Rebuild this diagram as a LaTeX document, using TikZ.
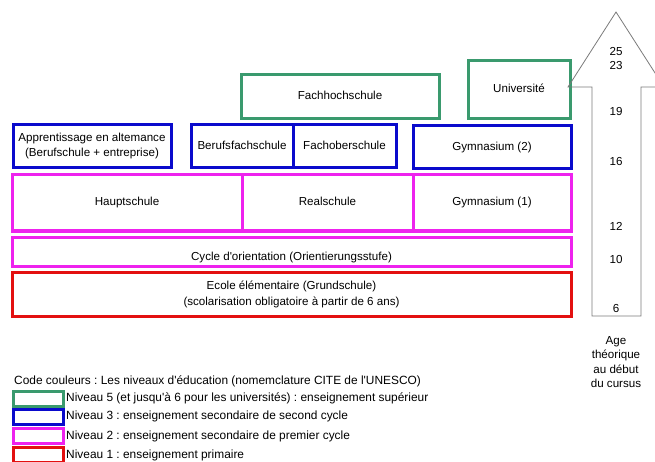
\documentclass[tikz,border=0pt]{standalone}
\usepackage{fontspec}
\setmainfont{Liberation Sans}
\usepackage{tikz}
\usetikzlibrary{positioning}
\definecolor{cite-green}{HTML}{3A9A6E}
\definecolor{cite-blue}{HTML}{0A0ACC}
\definecolor{cite-magenta}{HTML}{EE22EE}
\definecolor{cite-red}{HTML}{E31010}
\definecolor{age-gray}{HTML}{7A7A7A}
\newcommand{\apo}{\textquotesingle}

\begin{document}
\begin{tikzpicture}[x=1pt, y=-1pt,
    font=\fontsize{11.6}{15}\selectfont\frenchspacing,
    citebox/.style={draw=#1, line width=3pt, align=center, inner sep=0pt, outer sep=0pt},
    oneline/.style={text height=8.4pt, text depth=2.4pt},
    keybox/.style={draw=#1, line width=3pt, minimum width=50pt, minimum height=15pt, inner sep=0pt, outer sep=0pt}]
    \clip (0,0) rectangle (655,462);

    % Niveau 5
    \node[citebox=cite-green, oneline, minimum width=198pt, minimum height=44pt] (fhs) at (340,97) {Fachhochschule};
    \node[citebox=cite-green, oneline, minimum width=102pt, minimum height=58pt] (uni) at (519,90) {Université};

    % Niveau 3
    \node[citebox=cite-blue, minimum width=158pt, minimum height=43pt] (appr) at (92,146.5) {Apprentissage en altemance\\(Berufschule + entreprise)};
    \node[citebox=cite-blue, oneline, minimum width=102pt, minimum height=43pt] (bfs) at (242,146.5) {Berufsfachschule};
    \node[citebox=cite-blue, oneline, minimum width=103pt, minimum height=43pt, right=0pt of bfs] (fos) {Fachoberschule};
    \node[citebox=cite-blue, oneline, minimum width=158pt, minimum height=43pt] (gym2) at (492,147.5) {Gymnasium (2)};

    % Niveau 2
    \node[citebox=cite-magenta, oneline, minimum width=230pt, minimum height=56pt] (haupt) at (127,203) {Hauptschule};
    \node[citebox=cite-magenta, oneline, minimum width=171pt, minimum height=56pt, right=0pt of haupt] (real) {Realschule};
    \node[citebox=cite-magenta, oneline, minimum width=158pt, minimum height=56pt, right=0pt of real] (gym1) {Gymnasium (1)};
    \node[citebox=cite-magenta, minimum width=559pt, minimum height=29pt] (orient) at (291.5,251.5) {};
    \node[oneline] (orienttxt) at (291.5,257) {Cycle d\apo orientation (Orientierungsstufe)};

    % Niveau 1
    \node[citebox=cite-red, minimum width=559pt, minimum height=44pt, font=\fontsize{11.6}{16}\selectfont] (ecole) at (291.5,294.5) {Ecole élémentaire (Grundschule)\\(scolarisation obligatoire à partir de 6 ans)};

    % Age arrow
    \draw[age-gray, line width=0.8pt] (568,87) -- (616,12) -- (664,87) -- (641,87) -- (641,316) -- (592,316) -- (592,87) -- cycle;
    \foreach \a/\y in {25/52, 23/66, 19/112, 16/162, 12/226, 10/260, 6/309} {
        \node (age\a) at (616,\y) {\a};
    }
    \node[align=center, font=\fontsize{11.6}{14.2}\selectfont] (agetxt) at (616,362) {Age\\théorique\\au début\\du cursus};

    % Code couleurs
    \node[anchor=west, inner xsep=0pt, font=\fontsize{11.9}{15}\selectfont\frenchspacing] (keytitle) at (14,381) {Code couleurs : Les niveaux d\apo éducation (nomemclature CITE de l\apo UNESCO)};
    \foreach \c/\y/\label in {cite-green/398.5/{Niveau 5 (et jusqu\apo à 6 pour les universités) : enseignement supérieur},
                              cite-blue/416.5/{Niveau 3 : enseignement secondaire de second cycle},
                              cite-magenta/436/{Niveau 2 : enseignement secondaire de premier cycle},
                              cite-red/455/{Niveau 1 : enseignement primaire}} {
        \node[keybox=\c] (key-\c) at (38.5,\y) {};
        \node[anchor=west, inner xsep=0pt, oneline, font=\fontsize{11.9}{15}\selectfont\frenchspacing] at (66,\y) {\label};
    }
\end{tikzpicture}
\end{document}
